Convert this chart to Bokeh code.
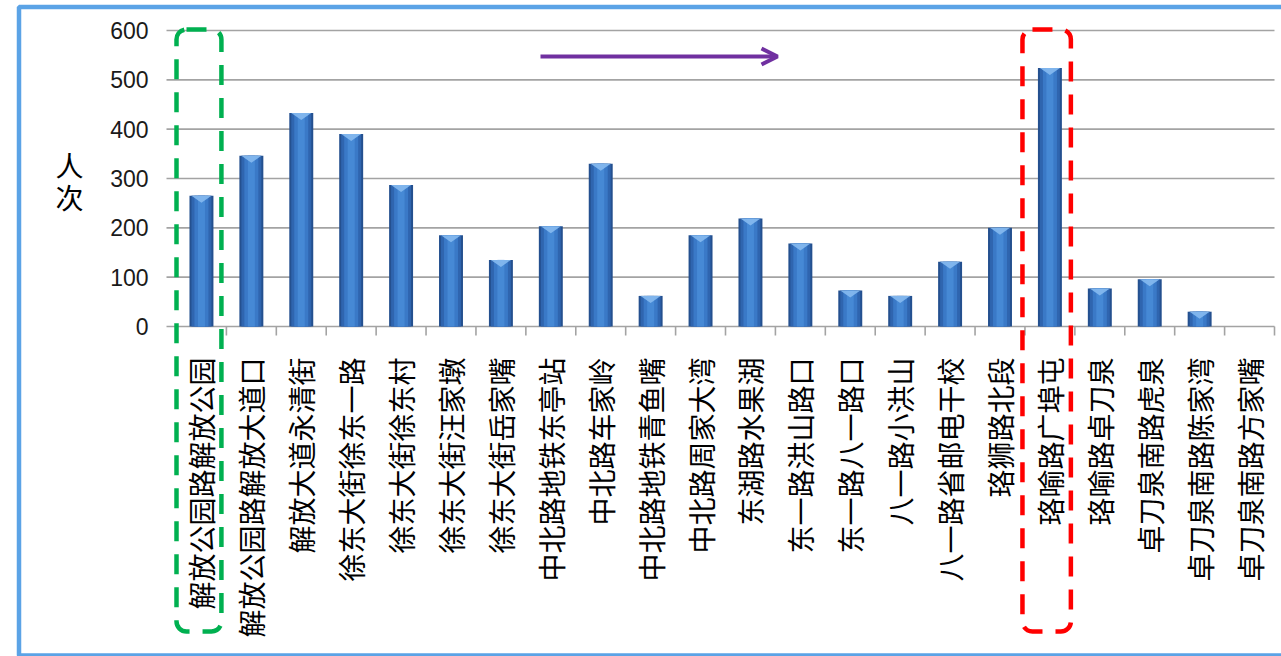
import math
from bokeh.plotting import figure
from bokeh.models import (Range1d, BoxAnnotation, Arrow, OpenHead, ColumnDataSource)
from bokeh.core.properties import value
from bokeh.embed import file_html
from bokeh.resources import INLINE

# ---------------- data ----------------
stations = ["解放公园路解放公园", "解放公园路解放大道口", "解放大道永清街", "徐东大街徐东一路",
            "徐东大街徐东村", "徐东大街汪家墩", "徐东大街岳家嘴", "中北路地铁东亭站",
            "中北路车家岭", "中北路地铁青鱼嘴", "中北路周家大湾", "东湖路水果湖",
            "东一路洪山路口", "东一路八一路口", "八一路小洪山", "八一路省邮电干校",
            "珞狮路北段", "珞喻路广埠屯", "珞喻路卓刀泉", "卓刀泉南路虎泉",
            "卓刀泉南路陈家湾", "卓刀泉南路方家嘴"]
riders = [265, 346, 433, 390, 287, 185, 135, 203, 330, 62, 185, 219,
          168, 73, 62, 131, 200, 524, 77, 96, 30, 0]
y_ticks = [0, 100, 200, 300, 400, 500, 600]
y_tick_labels = ["0", "100", "200", "300", "400", "500", "600"]
y_title = ["人", "次"]
start_station = "解放公园路解放公园"
peak_station = "珞喻路广埠屯"

# ---------------- layout helpers ----------------
W, H = 1281, 656
FL, FR, FT, FB = 176, 1274, 30, 326   # plot-area edges in pixels
n = len(stations)
ymax = 600

def dx(px):  # pixel x -> data x
    return (px - FL) / (FR - FL) * n

def dy(py):  # pixel y -> data y
    return (FB - py) / (FB - FT) * ymax

ppy = (FB - FT) / ymax       # pixels per unit

centers = [i + 0.5 for i in range(n)]
src = ColumnDataSource(dict(x=centers, top=riders, name=stations))

p = figure(width=W, height=H, x_range=Range1d(dx(0), dx(W)), y_range=Range1d(dy(H), dy(0)),
           output_backend="svg", toolbar_location=None,
           x_axis_location=None, y_axis_location=None,
           min_border=0, min_border_left=0, min_border_right=0,
           min_border_top=0, min_border_bottom=0)
p.outline_line_color = None
p.background_fill_color = "white"
p.border_fill_color = "white"
p.xgrid.visible = False
p.ygrid.visible = False

GRID = "#a3a3a3"

# horizontal gridlines (extending left as tick marks)
p.segment(x0=[dx(166)] * len(y_ticks), x1=[n] * len(y_ticks), y0=y_ticks, y1=y_ticks,
          line_color=GRID, line_width=1.6)

# category boundary ticks below the x axis
bounds = list(range(0, n + 1))
p.segment(x0=bounds, x1=bounds, y0=[0] * len(bounds), y1=[-9 / ppy] * len(bounds),
          line_color=GRID, line_width=1.6)

# bars (layered to mimic the cylindrical shading)
p.vbar(x="x", top="top", width=0.48, source=src, fill_color="#24508f", line_color=None)
p.vbar(x="x", top="top", width=0.40, source=src, fill_color="#2f65af", line_color=None)
p.vbar(x="x", top="top", width=0.28, source=src, fill_color="#3a79c7", line_color=None)
p.vbar(x="x", top="top", width=0.14, source=src, fill_color="#4689d5", line_color=None)

# light bevel at the top of each non-empty bar
tri_xs, tri_ys = [], []
for c, v in zip(centers, riders):
    if v * ppy > 8:
        tri_xs.append([c - 0.2, c + 0.2, c])
        tri_ys.append([v, v, v - 7 / ppy])
p.patches(xs=tri_xs, ys=tri_ys, fill_color="#86baf0", fill_alpha=0.9, line_color=None)

# y tick labels
p.text(x=[dx(148)] * len(y_ticks), y=y_ticks, text=y_tick_labels,
       text_align="right", text_baseline="middle",
       text_font=value("Liberation Sans"), text_font_size="23px", text_color="#1a1a1a")

# x category labels (rotated, reading bottom to top)
p.text(x=centers, y=[dy(357)] * n, text=stations, angle=math.pi / 2,
       text_align="right", text_baseline="middle",
       text_font=value("Noto Sans CJK SC"), text_font_size="28px", text_color="black")

# y-axis title, stacked characters
p.text(x=[dx(69)] * 2, y=[dy(164), dy(196)], text=y_title,
       text_align="center", text_baseline="middle",
       text_font=value("Noto Sans CJK SC"), text_font_size="28px", text_color="black")

# highlight boxes
i0 = stations.index(start_station)
i1 = stations.index(peak_station)
p.add_layout(BoxAnnotation(left=i0 + 0.0, right=i0 + 0.9, top=dy(29), bottom=dy(631),
                           fill_color=None, fill_alpha=0, line_color="#00b050", line_alpha=1,
                           line_width=4.5, line_dash="20 13", border_radius=10))
p.add_layout(BoxAnnotation(left=i1 - 0.05, right=i1 + 0.92, top=dy(29), bottom=dy(631),
                           fill_color=None, fill_alpha=0, line_color="#ff0000", line_alpha=1,
                           line_width=4.5, line_dash="20 13", border_radius=10))

# direction arrow
p.add_layout(Arrow(x_start=dx(540), y_start=dy(56), x_end=dx(777), y_end=dy(56),
                   line_color="#7030a0", line_width=4,
                   end=OpenHead(size=16, line_color="#7030a0", line_width=4)))

# outer frame
p.add_layout(BoxAnnotation(left=dx(18.5), right=dx(1300), top=dy(6.5), bottom=dy(655),
                           fill_color=None, fill_alpha=0, line_color="#5ba3e6", line_alpha=1,
                           line_width=4.5))

open("out.html", "w").write(file_html(p, INLINE))
